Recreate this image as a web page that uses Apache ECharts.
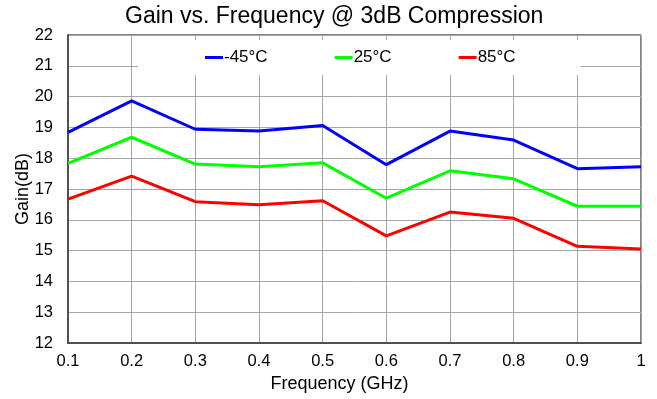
<!DOCTYPE html>
<html>
<head>
<meta charset="utf-8">
<script src="https://cdn.jsdelivr.net/npm/echarts@6/dist/echarts.min.js"></script>
<style>
  html, body { margin: 0; padding: 0; background: #fff; }
  #chart { width: 657px; height: 399px; }
</style>
</head>
<body>
<div id="chart"></div>
<script>
// Frequency points (GHz)
const frequencies = [0.1, 0.2, 0.3, 0.4, 0.5, 0.6, 0.7, 0.8, 0.9, 1.0];

// Gain at 3dB compression (dB) per temperature
const gainMinus45 = [18.84, 19.86, 18.94, 18.88, 19.06, 17.79, 18.88, 18.59, 17.66, 17.72];
const gain25      = [17.83, 18.68, 17.81, 17.72, 17.85, 16.70, 17.59, 17.33, 16.44, 16.44];
const gain85      = [16.67, 17.42, 16.59, 16.49, 16.62, 15.48, 16.25, 16.05, 15.14, 15.05];

const seriesNames  = ['-45°C', '25°C', '85°C'];
const seriesColors = ['#0000ff', '#00ff00', '#ff0000'];
const seriesValues = [gainMinus45, gain25, gain85];

const FONT = '"Liberation Sans", Arial, sans-serif';

const chart = echarts.init(document.getElementById('chart'), null, { renderer: 'canvas' });

chart.setOption({
  backgroundColor: '#ffffff',
  animation: false,
  title: {
    text: 'Gain vs. Frequency @ 3dB Compression',
    left: 125,
    top: 5,
    padding: 0,
    textStyle: { fontFamily: FONT, fontSize: 23, fontWeight: 'normal', color: '#000' }
  },
  legend: {
    data: seriesNames,
    left: 138,
    top: 40,
    padding: [9, 65, 9, 67],
    backgroundColor: '#ffffff',
    itemGap: 67,
    itemWidth: 18,
    itemHeight: 3,
    icon: 'rect',
    z: 10,
    textStyle: { fontFamily: FONT, fontSize: 17, color: '#000', padding: [0, 0, 0, -4] }
  },
  grid: {
    left: 68, right: 16, top: 35, bottom: 56,
    show: true,
    borderColor: '#000',
    borderWidth: 1,
    backgroundColor: 'transparent'
  },
  xAxis: {
    type: 'value',
    min: 0.1,
    max: 1,
    interval: 0.1,
    name: 'Frequency (GHz)',
    nameLocation: 'middle',
    nameGap: 30,
    nameTextStyle: { fontFamily: FONT, fontSize: 18, color: '#000', padding: [0, 30, 0, 0] },
    axisLine: { show: true, onZero: false, lineStyle: { color: '#505050', width: 2 } },
    axisTick: { show: false },
    axisLabel: {
      fontFamily: FONT, fontSize: 16.5, color: '#000', margin: 10,
      formatter: v => String(Math.round(v * 10) / 10)
    },
    splitLine: { show: true, lineStyle: { color: '#a6a6a6', width: 1 } }
  },
  yAxis: {
    type: 'value',
    min: 12,
    max: 22,
    interval: 1,
    name: 'Gain(dB)',
    nameLocation: 'middle',
    nameGap: 36,
    nameMoveOverlap: false,
    nameTextStyle: { fontFamily: FONT, fontSize: 18, color: '#000' },
    axisLine: { show: true, lineStyle: { color: '#505050', width: 2 } },
    axisTick: { show: false },
    axisLabel: { fontFamily: FONT, fontSize: 16.5, color: '#000', margin: 15 },
    splitLine: { show: true, lineStyle: { color: '#a6a6a6', width: 1 } }
  },
  series: seriesNames.map((name, i) => ({
    name,
    type: 'line',
    data: frequencies.map((f, j) => [f, seriesValues[i][j]]),
    showSymbol: false,
    symbol: 'none',
    color: seriesColors[i],
    lineStyle: { color: seriesColors[i], width: 3 },
    z: 3
  }))
});
</script>
</body>
</html>
